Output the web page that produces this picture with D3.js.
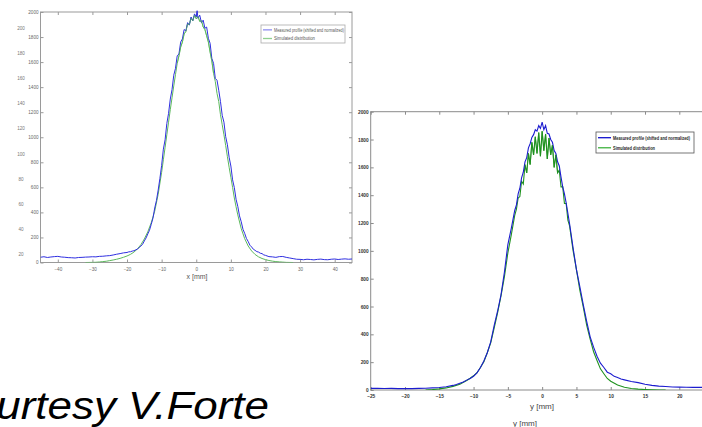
<!DOCTYPE html>
<html>
<head>
<meta charset="utf-8">
<script src="https://cdn.jsdelivr.net/npm/d3@7"></script>
<style>
  body { margin: 0; background: #fff; overflow: hidden; }
  svg { display: block; }
  .tick text { font-family: "Liberation Sans Narrow", "Liberation Sans", Arial, sans-serif; }
</style>
</head>
<body>
<div id="slide"></div>
<script>
// ---- data ----
// left panel: horizontal profile, x [mm] vs counts
var xMeasured = [[-45,42],[-44,46],[-43,40],[-42,44],[-41,47],[-40,49],[-39,44],[-38,42],[-37,39],[-36,38],[-35,36],[-34,40],[-33,41],[-32,43],[-31,44],[-30,46],[-29,45],[-28,49],[-27,50],[-26,53],[-25,55],[-24,60],[-23,66],[-22,71],[-21,77],[-20,80],[-19.5,85],[-19,86],[-18.5,91],[-18,94],[-17.5,101],[-17,107],[-16.5,119],[-16,131],[-15.5,146],[-15,172],[-14.5,196],[-14,228],[-13.5,258],[-13,305],[-12.5,355],[-12,435],[-11.5,495],[-11,578],[-10.5,672],[-10,775],[-9.5,905],[-9,980],[-8.5,1110],[-8,1190],[-7.5,1305],[-7,1380],[-6.5,1495],[-6,1550],[-5.5,1650],[-5,1665],[-4.5,1760],[-4,1785],[-3.5,1860],[-3,1850],[-2.5,1915],[-2,1895],[-1.5,1960],[-1,1930],[-0.5,1985],[0,1960],[0.25,2010],[0.5,1950],[1,1975],[1.5,1915],[2,1935],[2.5,1870],[3,1880],[3.5,1790],[4,1750],[4.5,1630],[5,1590],[5.5,1470],[6,1455],[6.5,1375],[7,1285],[7.5,1175],[8,1120],[8.5,1005],[9,940],[9.5,840],[10,770],[10.5,660],[11,598],[11.5,505],[12,448],[12.5,372],[13,325],[13.5,265],[14,232],[14.5,192],[15,168],[15.5,138],[16,124],[16.5,106],[17,97],[17.5,87],[18,83],[18.5,74],[19,71],[19.5,61],[20,57],[21,47],[22,45],[23,41],[24,47],[25,48],[26,41],[27,36],[28,31],[29,26],[30,25],[31,22],[32,26],[33,24],[34,21],[35,25],[36,27],[37,23],[38,22],[39,26],[40,28],[41,24],[42,27],[43,29],[44,26],[45,28]];
var xSimulated = [[-32,0],[-30,1],[-29,2],[-28,4],[-27,7],[-26,10],[-25,15],[-24,20],[-23,26],[-22,33],[-21,42],[-20,52],[-19,65],[-18,83],[-17,108],[-16,142],[-15,188],[-14,245],[-13,318],[-12,410],[-11,545],[-10,720],[-9.5,820],[-9,920],[-8.5,1020],[-8,1120],[-7.5,1220],[-7,1315],[-6.5,1410],[-6,1500],[-5.5,1590],[-5,1650],[-4.5,1720],[-4,1760],[-3.5,1825],[-3,1845],[-2.5,1905],[-2,1900],[-1.5,1950],[-1,1930],[-0.5,1975],[0,1945],[0.5,1965],[1,1925],[1.5,1930],[2,1880],[2.5,1860],[3,1810],[3.5,1760],[4,1680],[4.5,1610],[5,1510],[5.5,1445],[6,1350],[6.5,1285],[7,1180],[7.5,1100],[8,1020],[8.5,935],[9,845],[9.5,760],[10,680],[10.5,600],[11,515],[11.5,445],[12,380],[13,270],[14,190],[15,132],[16,92],[17,64],[18,45],[19,32],[20,23],[21,16],[22,11],[23,7],[24,5],[25,3],[26,1],[28,0]];
// right panel: vertical profile, y [mm] vs counts
var yMeasured = [[-25,12],[-24,13],[-23,11],[-22,12],[-21,10],[-20,11],[-19,10],[-18,12],[-17,13],[-16,15],[-15,18],[-14,23],[-13,33],[-12.5,40],[-12,49],[-11.5,57],[-11,71],[-10.5,83],[-10,99],[-9.5,123],[-9,162],[-8.5,208],[-8,268],[-7.5,346],[-7,462],[-6.5,566],[-6,684],[-5.5,848],[-5,1045],[-4.5,1162],[-4,1290],[-3.75,1330],[-3.5,1410],[-3.25,1450],[-3,1525],[-2.75,1565],[-2.5,1640],[-2.25,1670],[-2,1740],[-1.75,1770],[-1.5,1815],[-1.25,1835],[-1,1870],[-0.75,1860],[-0.5,1900],[-0.25,1880],[0,1925],[0.25,1870],[0.5,1900],[0.75,1845],[1,1840],[1.25,1800],[1.5,1780],[1.75,1720],[2,1700],[2.25,1640],[2.5,1610],[2.75,1530],[3,1460],[3.25,1410],[3.5,1345],[3.75,1270],[4,1195],[4.5,1025],[5,865],[5.5,742],[6,612],[6.5,492],[7,382],[7.5,308],[8,243],[8.5,193],[9,162],[9.5,128],[10,117],[10.5,98],[11,90],[11.5,79],[12,73],[13,61],[14,53],[15,41],[16,33],[17,28],[18,25],[19,22],[20,21],[21,20],[22,19],[23,19],[24,18],[25,19]];
var ySimulated = [[-17,0],[-16,3],[-15,8],[-14,15],[-13,26],[-12,42],[-11,68],[-10.5,84],[-10,102],[-9.5,124],[-9,162],[-8.5,203],[-8,268],[-7.5,338],[-7,445],[-6.5,555],[-6,676],[-5.5,815],[-5,985],[-4.5,1115],[-4,1255],[-3.75,1300],[-3.5,1380],[-3.25,1390],[-3,1500],[-2.75,1480],[-2.5,1620],[-2.25,1560],[-2,1700],[-1.75,1620],[-1.5,1780],[-1.25,1690],[-1,1820],[-0.75,1700],[-0.5,1850],[-0.25,1680],[0,1860],[0.25,1720],[0.5,1840],[0.75,1660],[1,1810],[1.25,1690],[1.5,1760],[1.75,1600],[2,1690],[2.25,1560],[2.5,1580],[2.75,1460],[3,1460],[3.25,1340],[3.5,1340],[3.75,1220],[4,1180],[4.5,1005],[5,865],[5.5,715],[6,595],[6.5,465],[7,365],[7.5,275],[8,212],[8.5,152],[9,117],[9.5,83],[10,63],[11,36],[12,20],[13,11],[14,6],[15,3],[16,1],[17,0],[18,0]];

var xTicksLeft = [-40,-30,-20,-10,0,10,20,30,40];
var xTicksRight = [-25,-20,-15,-10,-5,0,5,10,15,20];
var yTicks = [0,200,400,600,800,1000,1200,1400,1600,1800,2000];
var ghostTicks = [20,40,60,80,100,120,140,160,180,200]; // leftover labels on the slide
var legendNames = ["Measured profile (shifted and normalized)", "Simulated distribution"];

var w = 702, h = 427;
var svg = d3.select("#slide").append("svg").attr("width", w).attr("height", h);
var fmt = d3.format("d");

function drawPanel(opt) {
  var x = d3.scaleLinear().domain(opt.xDomain).range([opt.left, opt.right]);
  var y = d3.scaleLinear().domain([0, 2000]).range([opt.bottom, opt.top]);
  var g = svg.append("g");

  var clipId = "clip" + opt.id;
  svg.append("clipPath").attr("id", clipId).append("rect")
    .attr("x", opt.left).attr("y", opt.top - 2)
    .attr("width", opt.right - opt.left).attr("height", opt.bottom - opt.top + 2);

  // box
  g.append("rect")
    .attr("x", opt.left).attr("y", opt.top)
    .attr("width", opt.right - opt.left).attr("height", opt.bottom - opt.top)
    .attr("fill", "#fff").attr("stroke", opt.frame).attr("stroke-width", 1);

  function styleAxis(sel, showText) {
    sel.select(".domain").remove();
    sel.selectAll(".tick line").attr("stroke", opt.frame);
    sel.selectAll(".tick text")
      .attr("fill", opt.textColor)
      .style("font-size", opt.tickFont + "px")
      .style("font-weight", opt.bold ? "bold" : "normal");
    if (!showText) sel.selectAll(".tick text").remove();
  }

  g.append("g").attr("transform", "translate(0," + opt.bottom + ")")
    .call(d3.axisBottom(x).tickValues(opt.xTicks).tickFormat(fmt).tickSize(-3).tickPadding(5))
    .call(styleAxis, true);
  g.append("g").attr("transform", "translate(0," + opt.top + ")")
    .call(d3.axisTop(x).tickValues(opt.xTicks).tickSize(-3))
    .call(styleAxis, false);
  g.append("g").attr("transform", "translate(" + opt.left + ",0)")
    .call(d3.axisLeft(y).tickValues(yTicks).tickFormat(fmt).tickSize(-3).tickPadding(2))
    .call(styleAxis, true);
  g.append("g").attr("transform", "translate(" + opt.right + ",0)")
    .call(d3.axisRight(y).tickValues(yTicks).tickSize(-3))
    .call(styleAxis, false);

  var line = d3.line().x(function(d) { return x(d[0]); }).y(function(d) { return y(d[1]); });
  var lines = g.append("g").attr("clip-path", "url(#" + clipId + ")");
  lines.append("path").datum(opt.sim).attr("d", line)
    .attr("fill", "none").attr("stroke", opt.green).attr("stroke-width", opt.lw);
  lines.append("path").datum(opt.meas).attr("d", line)
    .attr("fill", "none").attr("stroke", opt.blue).attr("stroke-width", opt.lw);
  // the simulated curve sits on top near the peak
  lines.append("path").datum(opt.sim.filter(function(d) { return d[1] > 1500; })).attr("d", line)
    .attr("fill", "none").attr("stroke", opt.green).attr("stroke-width", opt.lw * 0.8).attr("opacity", 0.8);

  // axis label(s)
  opt.xLabels.forEach(function(l) {
    g.append("text").attr("x", l.x).attr("y", l.y)
      .attr("text-anchor", "middle")
      .attr("font-family", "Liberation Sans Narrow, Liberation Sans, Arial, sans-serif")
      .attr("font-size", l.size).attr("fill", opt.labelColor)
      .text(opt.xName);
  });

  // legend (narrow text, stretched vertically like the slide)
  var lg = g.append("g").attr("transform", "translate(" + opt.legend.x + "," + opt.legend.y + ")");
  lg.append("rect").attr("width", opt.legend.w).attr("height", opt.legend.h)
    .attr("fill", "#fff").attr("stroke", opt.legend.stroke).attr("stroke-width", 0.8);
  [opt.legend.blue, opt.legend.green].forEach(function(c, i) {
    var ly = opt.legend.h * (0.27 + 0.48 * i);
    lg.append("line").attr("x1", 2).attr("x2", 2 + opt.legend.lineLen)
      .attr("y1", ly).attr("y2", ly).attr("stroke", c).attr("stroke-width", opt.lw + 0.3);
    lg.append("text")
      .attr("transform", "translate(" + (4 + opt.legend.lineLen) + "," + ly + ") scale(1," + opt.legend.stretch + ")")
      .attr("dy", "0.35em")
      .attr("font-family", "Liberation Sans Narrow, Liberation Sans, Arial, sans-serif")
      .attr("font-size", opt.legend.font)
      .attr("font-weight", opt.bold ? "bold" : "normal")
      .attr("fill", opt.legend.textColor)
      .attr("textLength", opt.legend.textLen[i]).attr("lengthAdjust", "spacingAndGlyphs")
      .text(legendNames[i]);
  });
  return { x: x, y: y };
}

// left panel
drawPanel({
  id: "L", xDomain: [-45, 45], left: 40.5, right: 352, top: 12, bottom: 262.5,
  xTicks: xTicksLeft, meas: xMeasured, sim: xSimulated,
  frame: "#9a9a9a", textColor: "#666", labelColor: "#555", tickFont: 4.6, bold: false,
  blue: "#2f2fe0", green: "#5cb85c", lw: 1,
  xName: "x [mm]", xLabels: [{ x: 197, y: 279, size: 7 }],
  legend: { x: 261, y: 25, w: 84, h: 18, lineLen: 9, font: 4.2, stretch: 1.15, stroke: "#aaa",
            textColor: "#555", textLen: [70, 41], blue: "#8f8ff0", green: "#8fd08f" }
});

// ghost labels left over from another slide layer
var ghost = d3.scaleLinear().domain([20, 200]).range([254, 28]);
svg.append("g").attr("transform", "translate(21,0)")
  .call(d3.axisLeft(ghost).tickValues(ghostTicks).tickSize(0).tickPadding(0))
  .call(function(s) {
    s.select(".domain").remove();
    s.selectAll(".tick text").attr("text-anchor", "middle")
      .attr("fill", "#777").style("font-size", "4.6px");
  });

// right panel
drawPanel({
  id: "R", xDomain: [-25, 25], left: 370.7, right: 713.6, top: 111.7, bottom: 390,
  xTicks: xTicksRight, meas: yMeasured, sim: ySimulated,
  frame: "#8a8a8a", textColor: "#333", labelColor: "#444", tickFont: 4.8, bold: true,
  blue: "#1c1ccf", green: "#1f921f", lw: 1.1,
  xName: "y [mm]", xLabels: [{ x: 542, y: 409, size: 8 }, { x: 525, y: 426, size: 8 }],
  legend: { x: 596, y: 132, w: 98, h: 21, lineLen: 13, font: 4.4, stretch: 1.3, stroke: "#555",
            textColor: "#222", textLen: [77, 42], blue: "#1c1ccf", green: "#4cb84c" }
});

// slide caption, cut at the left edge as on the slide
svg.append("text")
  .attr("x", -60).attr("y", 419)
  .attr("font-family", "Liberation Sans, Arial, sans-serif")
  .attr("font-style", "italic")
  .attr("font-size", 39)
  .attr("fill", "#000")
  .attr("textLength", 329).attr("lengthAdjust", "spacingAndGlyphs")
  .text("Courtesy V.Forte");
</script>
</body>
</html>
